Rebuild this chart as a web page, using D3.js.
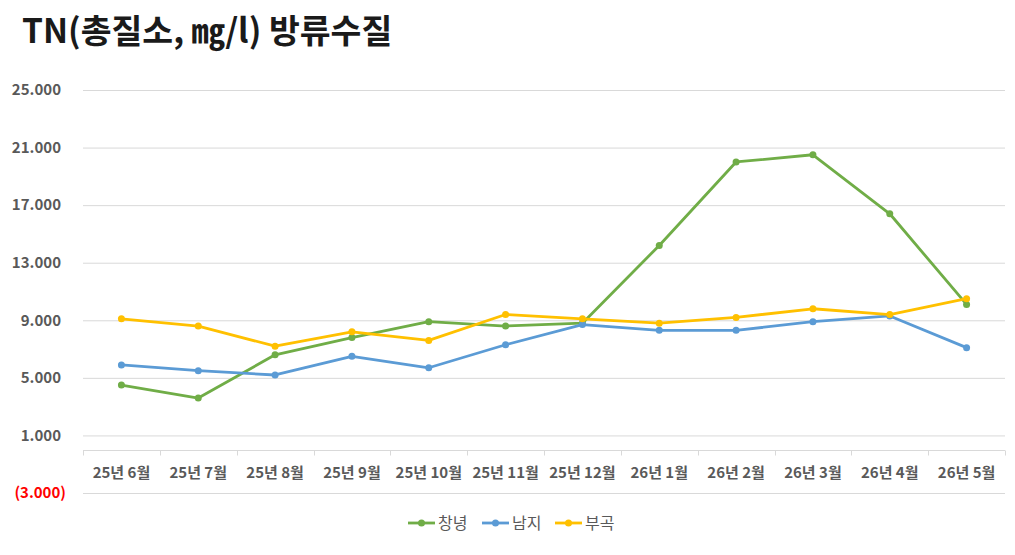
<!DOCTYPE html>
<html>
<head>
<meta charset="utf-8">
<script src="https://cdn.jsdelivr.net/npm/d3@7"></script>
<style>
  body { margin: 0; background: #fff; }
  svg { font-family: "Noto Sans CJK KR", "Noto Sans", sans-serif; }
  .grid line { stroke: #d9d9d9; stroke-width: 1; }
  .grid path { display: none; }
  .ylab text { font-size: 15px; font-weight: bold; fill: #595959; }
  .xlab { font-size: 15px; font-weight: bold; fill: #595959; }
  .title { font-size: 33.5px; font-weight: bold; fill: #1a1a1a; }
  .legend text { font-size: 16px; fill: #595959; }
</style>
</head>
<body>
<svg width="1015" height="555"></svg>
<script>
// data
const months = ['25년 6월','25년 7월','25년 8월','25년 9월','25년 10월','25년 11월','25년 12월',
                '26년 1월','26년 2월','26년 3월','26년 4월','26년 5월'];
const changnyeong = [4.5, 3.6, 6.6, 7.8, 8.9, 8.6, 8.8, 14.2, 20.0, 20.5, 16.4, 10.1];
const namji       = [5.9, 5.5, 5.2, 6.5, 5.7, 7.3, 8.7, 8.3, 8.3, 8.9, 9.3, 7.1];
const bugok       = [9.1, 8.6, 7.2, 8.2, 7.6, 9.4, 9.1, 8.8, 9.2, 9.8, 9.4, 10.5];
const yTicks = [25, 21, 17, 13, 9, 5, 1, -3];

const series = [
  { name: '창녕', values: changnyeong, color: '#70AD47' },
  { name: '남지', values: namji, color: '#5B9BD5' },
  { name: '부곡', values: bugok, color: '#FFC000' }
];

const svg = d3.select('svg');
const plotLeft = 83, plotRight = 1005, plotTop = 90, plotBottom = 493;

const xScale = d3.scaleBand()
  .domain(months)
  .range([plotLeft, plotRight]);

const yScale = d3.scaleLinear()
  .domain([-3, 25])
  .range([plotBottom, plotTop]);

// title
svg.append('text')
  .attr('class', 'title')
  .attr('x', 22)
  .attr('y', 43)
  .text('TN(총질소, ㎎/l) 방류수질');

// horizontal grid lines
svg.append('g')
  .attr('class', 'grid')
  .attr('transform', `translate(${plotLeft}, 0)`)
  .call(d3.axisLeft(yScale)
    .tickValues(yTicks)
    .tickSize(-(plotRight - plotLeft))
    .tickFormat(''));

// y labels (negatives in red, in parentheses)
const fmt = d3.format('.3f');
svg.append('g')
  .attr('class', 'ylab')
  .selectAll('text')
  .data(yTicks)
  .enter()
  .append('text')
  .attr('x', d => d < 0 ? 66 : 61)
  .attr('y', d => yScale(d))
  .attr('dy', '0.35em')
  .attr('text-anchor', 'end')
  .style('fill', d => d < 0 ? '#ff0000' : null)
  .text(d => d < 0 ? `(${fmt(-d)})` : fmt(d));

// category axis at zero, ticks between categories
const y0 = Math.round(yScale(0)) + 0.5;
const axis = svg.append('g');
axis.append('line')
  .attr('x1', plotLeft).attr('x2', plotRight)
  .attr('y1', y0).attr('y2', y0)
  .attr('stroke', '#d9d9d9');
axis.selectAll('.tick')
  .data(months.map(m => xScale(m)).concat([plotRight]))
  .enter()
  .append('line')
  .attr('x1', d => Math.round(d) + 0.5).attr('x2', d => Math.round(d) + 0.5)
  .attr('y1', y0).attr('y2', y0 + 5)
  .attr('stroke', '#d9d9d9');

svg.append('g')
  .selectAll('text')
  .data(months)
  .enter()
  .append('text')
  .attr('class', 'xlab')
  .attr('x', d => xScale(d) + xScale.bandwidth() / 2)
  .attr('y', 473)
  .attr('dy', '0.35em')
  .attr('text-anchor', 'middle')
  .text(d => d);

// lines
const line = d3.line()
  .x((v, i) => xScale(months[i]) + xScale.bandwidth() / 2)
  .y(v => yScale(v));

series.forEach(s => {
  svg.append('path')
    .datum(s.values)
    .attr('fill', 'none')
    .attr('stroke', s.color)
    .attr('stroke-width', 2.8)
    .attr('stroke-linejoin', 'round')
    .attr('d', line);
  svg.append('g')
    .selectAll('circle')
    .data(s.values)
    .enter()
    .append('circle')
    .attr('cx', (v, i) => xScale(months[i]) + xScale.bandwidth() / 2)
    .attr('cy', v => yScale(v))
    .attr('r', 3.5)
    .attr('fill', s.color);
});

// legend
const legendX = [408, 482, 555];
const legend = svg.append('g').attr('class', 'legend');
series.forEach((s, i) => {
  const g = legend.append('g').attr('transform', `translate(${legendX[i]}, 523)`);
  g.append('line')
    .attr('x1', 0).attr('x2', 27)
    .attr('stroke', s.color)
    .attr('stroke-width', 2.8);
  g.append('circle')
    .attr('cx', 13.5).attr('r', 3.5)
    .attr('fill', s.color);
  g.append('text')
    .attr('x', 30)
    .attr('dy', '0.35em')
    .text(s.name);
});
</script>
</body>
</html>
